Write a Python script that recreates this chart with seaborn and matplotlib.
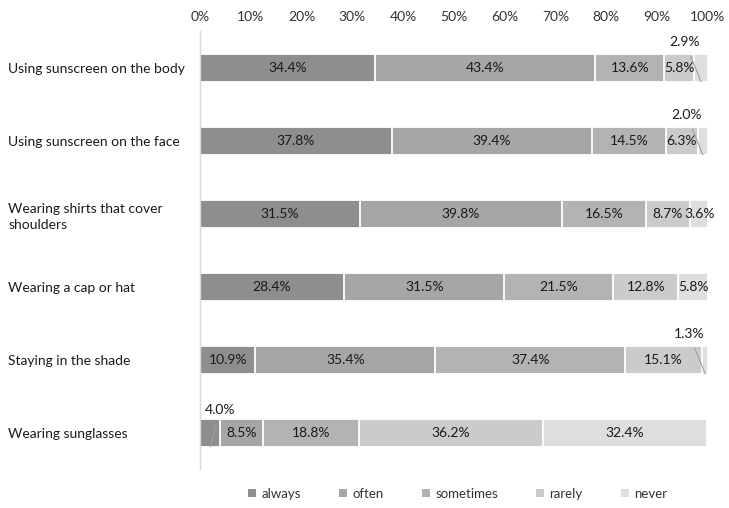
import numpy as np
import matplotlib
matplotlib.use("Agg")
import matplotlib.pyplot as plt
from matplotlib.patches import Patch
import seaborn as sns

sns.set_style("white")
plt.rcParams['font.family'] = ['Lato', 'DejaVu Sans']

categories = ["Using sunscreen on the body", "Using sunscreen on the face",
              "Wearing shirts that cover\nshoulders", "Wearing a cap or hat",
              "Staying in the shade", "Wearing sunglasses"]
series = ["always", "often", "sometimes", "rarely", "never"]
always = [34.4, 37.8, 31.5, 28.4, 10.9, 4.0]
often = [43.4, 39.4, 39.8, 31.5, 35.4, 8.5]
sometimes = [13.6, 14.5, 16.5, 21.5, 37.4, 18.8]
rarely = [5.8, 6.3, 8.7, 12.8, 15.1, 36.2]
never = [2.9, 2.0, 3.6, 5.8, 1.3, 32.4]
colors = ["#8e8e8e", "#a6a6a6", "#b3b3b3", "#cbcbcb", "#dedede"]

# segments labelled above the bar with a leader line: (row, series index)
callouts = [(0, 4), (1, 4), (4, 4), (5, 0)]

vals = np.array([always, often, sometimes, rarely, never])
cum = np.cumsum(vals, axis=0)

fig = plt.figure(figsize=(7.29, 5.08), dpi=100)
ax = fig.add_axes([0.2743, 0.076, 0.6968, 0.862])

# draw back to front so each stacked segment shows
for i in range(len(series) - 1, -1, -1):
    sns.barplot(x=cum[i], y=categories, orient='h', color=colors[i],
                width=0.38, edgecolor='white', linewidth=1.3,
                saturation=1, ax=ax)

for r in range(len(categories)):
    for i in range(len(series)):
        v = vals[i, r]
        left = cum[i, r] - v
        mid = left + v / 2
        txt = f"{v:.1f}%"
        if (r, i) in callouts:
            if i == 0:
                tx, ty = mid + 2.0, r - 0.31
            else:
                tx, ty = mid - 3.2, r - 0.36
            ax.annotate(txt, xy=(mid, r + 0.19), xytext=(tx, ty),
                        ha='center', va='center', fontsize=10, color='#1a1a1a',
                        arrowprops=dict(arrowstyle='-', color='#a0a0a0', lw=0.8,
                                        shrinkA=4, shrinkB=0))
        else:
            ax.text(mid, r, txt, ha='center', va='center', fontsize=10,
                    color='#1a1a1a')

ax.set_xlim(0, 100)
ax.set_ylim(5.5, -0.5)
ax.set_xticks(np.arange(0, 101, 10))
ax.set_xticklabels([f"{t}%" for t in range(0, 101, 10)])
ax.xaxis.tick_top()
ax.tick_params(axis='x', length=0, pad=6, labelsize=10, labelcolor='#333333')
ax.set_yticks(range(len(categories)))
ax.set_yticklabels(categories, ha='left', linespacing=1.4)
ax.tick_params(axis='y', length=0, pad=138, labelsize=10, labelcolor='#1a1a1a')
ax.set_xlabel("")
ax.set_ylabel("")
for s in ['top', 'right', 'bottom']:
    ax.spines[s].set_visible(False)
ax.spines['left'].set_color('#d9d9d9')
ax.spines['left'].set_linewidth(1)

handles = [Patch(facecolor=c, edgecolor='none', label=s) for s, c in zip(series, colors)]
fig.legend(handles=handles, loc='center', bbox_to_anchor=(0.628, 0.028), ncol=5,
           frameon=False, fontsize=9.5, handlelength=0.6, handleheight=0.6,
           handletextpad=0.4, columnspacing=2.9, labelcolor='#333333')

fig.savefig("out.png", dpi=100)
